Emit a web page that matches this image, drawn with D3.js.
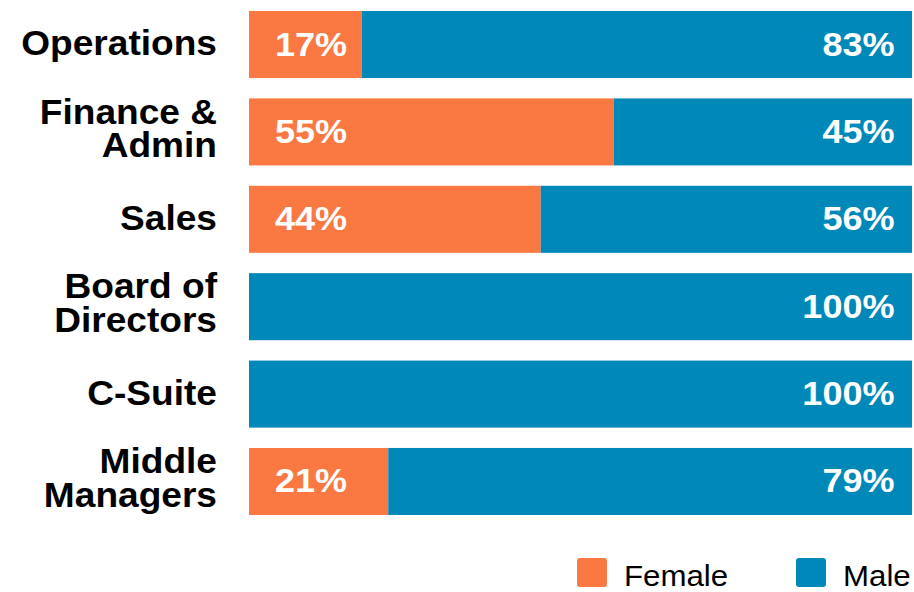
<!DOCTYPE html>
<html>
<head>
<meta charset="utf-8">
<script src="https://cdn.jsdelivr.net/npm/d3@7"></script>
<style>
  html, body { margin: 0; padding: 0; background: #ffffff; }
  svg { display: block; font-family: "Liberation Sans", Arial, sans-serif; }
</style>
</head>
<body>
<svg id="chart" width="914" height="592"></svg>
<script>
// Share of women and men by role (percent)
const categories = [
  ["Operations"],
  ["Finance &", "Admin"],
  ["Sales"],
  ["Board of", "Directors"],
  ["C-Suite"],
  ["Middle", "Managers"]
];
const female = [17, 55, 44, 0, 0, 21];
const male = [83, 45, 56, 100, 100, 79];
const seriesNames = ["Female", "Male"];
const seriesColors = ["#FA7842", "#0088B8"];

(function () {
  const svg = d3.select("#chart");
  const plotLeft = 249, plotRight = 912, plotTop = 11, plotBottom = 515;
  const stretch = 1.06; // slightly wide lettering

  const keys = categories.map(c => c.join(" "));
  const y = d3.scaleBand().domain(keys).range([plotTop, plotBottom]).paddingInner(0.233).paddingOuter(0);
  const x = d3.scaleLinear().domain([0, 100]).range([plotLeft, plotRight]);

  const rows = keys.map((k, i) => ({ key: k, lines: categories[i], female: female[i], male: male[i] }));
  const stack = d3.stack().keys(["female", "male"])(rows);

  const layers = svg.selectAll("g.layer").data(stack).join("g")
    .attr("class", "layer")
    .attr("fill", (d, i) => seriesColors[i]);

  layers.selectAll("rect").data(d => d.filter(s => s[1] - s[0] > 0)).join("rect")
    .attr("x", d => x(d[0]))
    .attr("width", d => x(d[1]) - x(d[0]))
    .attr("y", d => y(d.data.key))
    .attr("height", y.bandwidth());

  const mid = d => y(d.key) + y.bandwidth() / 2;

  // Category labels, one text per line
  const lineH = 33.4;
  const catLines = [];
  rows.forEach(d => {
    const n = d.lines.length;
    d.lines.forEach((line, j) => {
      catLines.push({
        text: line,
        y: mid(d) + (j - (n - 1) / 2) * lineH + (n > 1 ? 8.5 : 10.5)
      });
    });
  });
  svg.append("g").selectAll("text").data(catLines).join("text")
    .attr("transform", d => `translate(217,${d.y}) scale(${stretch},1)`)
    .attr("text-anchor", "end")
    .attr("font-weight", "bold")
    .attr("font-size", 35)
    .attr("fill", "#000")
    .text(d => d.text);

  // Value labels inside bars
  const valueFont = 34;
  svg.append("g").selectAll("text").data(rows.filter(d => d.female > 0)).join("text")
    .attr("transform", d => `translate(${x(0) + 26},${mid(d) + 11}) scale(${stretch},1)`)
    .attr("font-weight", "bold")
    .attr("font-size", valueFont)
    .attr("fill", "#fff")
    .text(d => d.female + "%");

  svg.append("g").selectAll("text").data(rows.filter(d => d.male > 0)).join("text")
    .attr("transform", d => `translate(${x(100) - 17.5},${mid(d) + 11}) scale(${stretch},1)`)
    .attr("text-anchor", "end")
    .attr("font-weight", "bold")
    .attr("font-size", valueFont)
    .attr("fill", "#fff")
    .text(d => d.male + "%");

  // Legend
  const legendX = [577, 796];
  const legend = svg.append("g").selectAll("g").data(seriesNames).join("g")
    .attr("transform", (d, i) => `translate(${legendX[i]},558)`);
  legend.append("rect")
    .attr("width", 30).attr("height", 29).attr("rx", 3)
    .attr("fill", (d, i) => seriesColors[i]);
  legend.append("text")
    .attr("transform", `translate(47,27.5) scale(${stretch},1)`)
    .attr("font-size", 29.5)
    .attr("fill", "#000")
    .text(d => d);
})();
</script>
</body>
</html>
